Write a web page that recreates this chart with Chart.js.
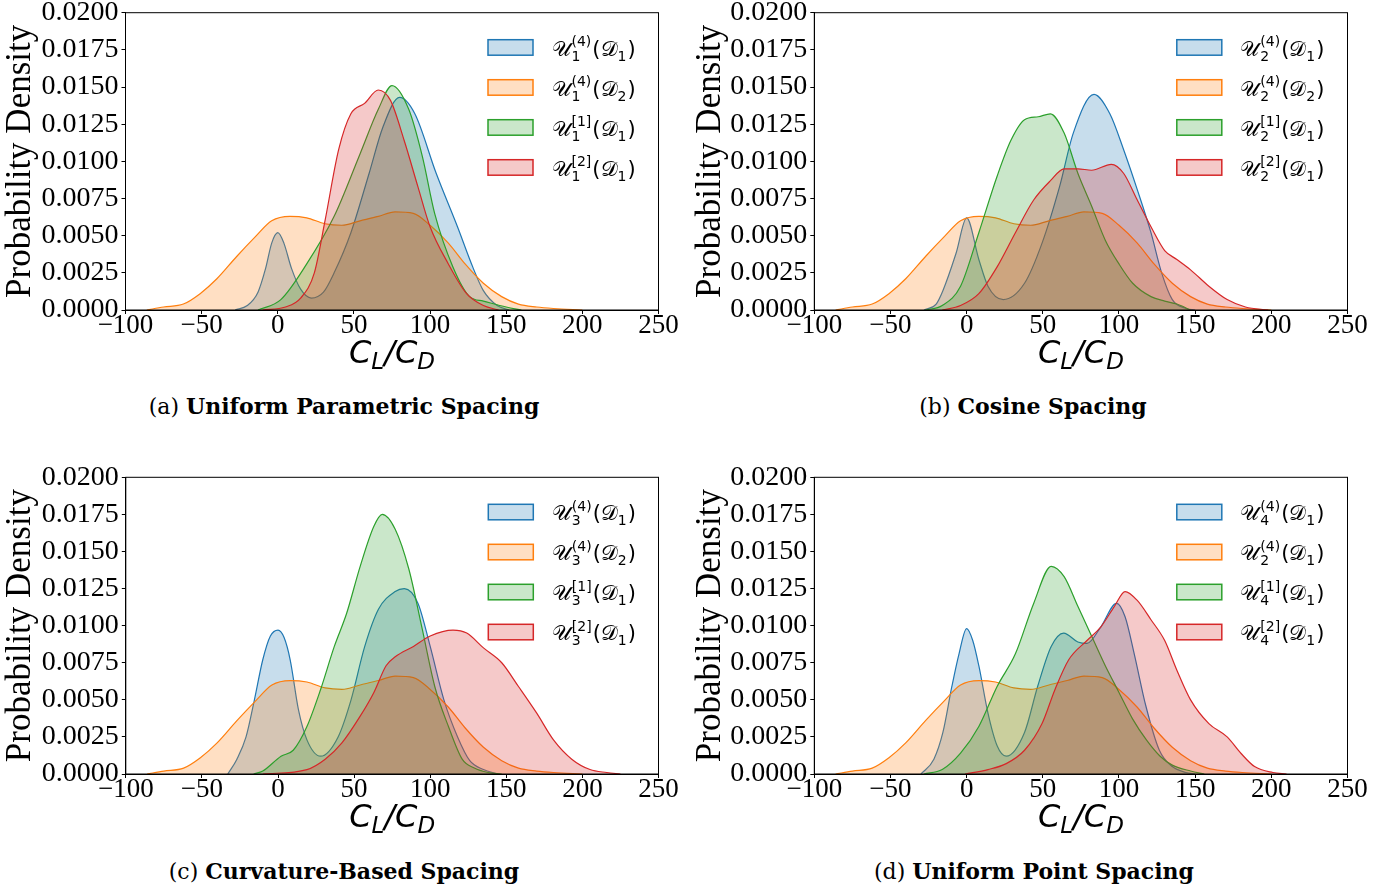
<!DOCTYPE html>
<html>
<head>
<meta charset="utf-8">
<script src="https://cdn.jsdelivr.net/npm/chart.js@4.4.1/dist/chart.umd.min.js"></script>
<style>
  html, body { margin: 0; padding: 0; background: #fff; }
  body { width: 1397px; height: 890px; position: relative; overflow: hidden; }
  canvas { position: absolute; }
  .cap { position: absolute; font-family: "DejaVu Serif", serif; font-size: 22px; color: #000;
         transform: translateX(-50%); white-space: nowrap; line-height: 26px; }
</style>
</head>
<body>
<canvas id="panelA" width="690" height="380" style="left:0;top:0"></canvas>
<canvas id="panelB" width="707" height="380" style="left:690px;top:0"></canvas>
<canvas id="panelC" width="690" height="380" style="left:0;top:460px"></canvas>
<canvas id="panelD" width="707" height="380" style="left:690px;top:460px"></canvas>
<div class="cap" style="left:344px;top:393px">(a) <b>Uniform Parametric Spacing</b></div>
<div class="cap" style="left:1033px;top:393px">(b) <b>Cosine Spacing</b></div>
<div class="cap" style="left:344px;top:858px">(c) <b>Curvature-Based Spacing</b></div>
<div class="cap" style="left:1034px;top:858px">(d) <b>Uniform Point Spacing</b></div>
<script>
// x = C_L/C_D, y = probability density (KDE curves)
const xTicks = [-100, -50, 0, 50, 100, 150, 200, 250];
const yTicks = [0, 0.0025, 0.005, 0.0075, 0.01, 0.0125, 0.015, 0.0175, 0.02];

// reference distribution (orange), identical in all four panels
const refX = [-86, -75, -62, -51, -40, -27, -15, -4, 8, 19, 31, 42, 54, 66, 77, 89, 100, 112, 123, 135, 147, 158, 170, 181, 200];
const refY = [0, .0002, .0004, .0011, .0021, .0036, .0049, .0060, .0063, .0062, .0058, .0057, .0060, .0063, .0066, .0065, .0057, .0045, .0031, .0018, .0009, .0004, .0002, .0001, 0];

// (a) uniform parametric spacing
const aBlueX = [-28, -20, -13, -8, -4, 0, 4, 9, 15, 22, 30, 37, 48, 60, 69, 80, 90, 104, 118, 128, 135, 144, 152];
const aBlueY = [0, .0003, .0012, .0028, .0045, .0052, .0045, .0028, .0014, .0008, .0012, .0025, .0052, .0092, .0123, .0143, .0132, .0092, .0056, .0029, .0013, .0003, 0];
const aGreenX = [-13, 2, 19, 37, 54, 66, 75, 86, 95, 103, 115, 126, 135, 150, 160];
const aGreenY = [0, .0007, .0031, .0063, .0105, .0135, .0151, .0135, .0103, .0065, .0029, .0009, .0006, .0002, 0];
const aRedX = [-10, 5, 15, 24, 31, 40, 48, 57, 66, 74, 83, 92, 100, 112, 124, 135, 145];
const aRedY = [0, .0002, .0008, .0025, .0060, .0108, .0132, .0139, .0148, .0141, .0114, .0083, .0056, .0031, .0011, .0003, 0];

// (b) cosine spacing
const bBlueX = [-28, -20, -15.6, -7, 0, 8, 14, 24, 38, 49.5, 61, 70, 83.6, 94, 103, 112, 121, 128, 135, 144, 150];
const bBlueY = [0, .0004, .0013, .0038, .0062, .0034, .0016, .0007, .0018, .0045, .0083, .0119, .0145, .0132, .0108, .0081, .0052, .0025, .0007, .0001, 0];
const bGreenX = [-27, -16, -4, 8, 20, 29, 38, 47, 55, 64, 73, 82, 91, 100, 109, 121, 130, 138, 147];
const bGreenY = [0, .0003, .0016, .0052, .0090, .0114, .0128, .0130, .0132, .0119, .0092, .0070, .0047, .0031, .0018, .0009, .0006, .0004, 0];
const bRedX = [-16, -4, 8, 20, 32, 44, 55, 64, 73, 82, 95, 103, 112, 121, 130, 138, 147, 159, 171, 183, 198];
const bRedY = [0, .0003, .0011, .0029, .0052, .0074, .0087, .0095, .0095, .0094, .0098, .0092, .0074, .0056, .0040, .0034, .0027, .0016, .0007, .0002, 0];

// (c) curvature-based spacing
const cBlueX = [-33, -27, -21, -15.5, -10, -5, 0, 4, 8, 13.5, 19, 28, 39.5, 48, 57, 66, 77, 83, 92, 100, 109, 118, 126, 135, 144];
const cBlueY = [0, .0010, .0025, .0050, .0077, .0093, .0097, .0092, .0077, .0043, .0023, .0012, .0025, .0050, .0086, .0111, .0123, .0125, .0115, .0086, .0050, .0025, .0009, .0003, 0];
const cGreenX = [-16, -10, 2, 10, 19, 28, 37, 45, 54, 63, 68.5, 77, 86, 94.5, 103, 112, 121, 129, 138, 147];
const cGreenY = [0, .0002, .0012, .0016, .0032, .0057, .0086, .0108, .0140, .0167, .0175, .0165, .0138, .0099, .0059, .0032, .0010, .0004, .0001, 0];
const cRedX = [-10, 19, 31, 42, 54, 63, 71, 77, 89, 100, 115, 124, 135, 147, 158, 170, 181, 193, 205, 216, 225];
const cRedY = [0, .0003, .0010, .0021, .0039, .0055, .0073, .0079, .0086, .0093, .0097, .0095, .0085, .0075, .0059, .0041, .0023, .0010, .0003, .0001, 0];

// (d) uniform point spacing
const dBlueX = [-30, -21.5, -15.6, -9.7, -5, 0, 4, 8, 14, 20, 26, 38, 46.6, 55.5, 63.7, 73, 79, 88, 98.4, 104, 110, 117.6, 126.5, 135, 144, 150];
const dBlueY = [0, .0010, .0028, .0059, .0081, .0098, .0090, .0073, .0041, .0019, .0012, .0028, .0059, .0086, .0095, .0089, .0088, .0099, .0115, .0106, .0081, .0046, .0016, .0005, .0001, 0];
const dGreenX = [-28, -16, -4, 8, 20, 32, 44, 55.5, 64, 73, 82, 91, 100, 109, 118, 127, 135, 147, 156];
const dGreenY = [0, .0003, .0014, .0032, .0059, .0081, .0115, .0140, .0133, .0113, .0093, .0073, .0055, .0037, .0023, .0012, .0006, .0002, 0];
const dRedX = [-1, 14, 26, 38, 49.5, 58, 67, 79, 88, 97, 104, 112, 121, 130, 138, 147, 159, 171, 180, 189, 201, 210];
const dRedY = [0, .0003, .0007, .0016, .0034, .0057, .0077, .0090, .0099, .0113, .0123, .0117, .0104, .0090, .0070, .0050, .0034, .0025, .0014, .0005, .0001, 0];

// legend labels: U_{sub}^{sup}(D_{dsub})
const supers = ['(4)', '(4)', '[1]', '[2]'];
const aLabels = [['1', '1'], ['1', '2'], ['1', '1'], ['1', '1']];
const bLabels = [['2', '1'], ['2', '2'], ['2', '1'], ['2', '1']];
const cLabels = [['3', '1'], ['3', '2'], ['3', '1'], ['3', '1']];
const dLabels = [['4', '1'], ['2', '1'], ['4', '1'], ['4', '1']];

const palette = ['#1f77b4', '#ff7f0e', '#2ca02c', '#d62728'];

Chart.defaults.font.family = '"Liberation Serif", "Times New Roman", serif';
Chart.defaults.color = '#000';

function fade(hex, a) {
    const r = parseInt(hex.slice(1, 3), 16);
    const g = parseInt(hex.slice(3, 5), 16);
    const b = parseInt(hex.slice(5, 7), 16);
    return `rgba(${r},${g},${b},${a})`;
}

const MATH = '"DejaVu Sans", "Noto Sans", sans-serif';

function drawXTitle(ctx, cx, base) {
    const big = `italic 32px ${MATH}`, small = `italic 23px ${MATH}`;
    const parts = [['C', big, 0], ['L', small, 6], ['/', big, 0], ['C', big, 0], ['D', small, 6]];
    let w = 0;
    parts.forEach(p => { ctx.font = p[1]; w += ctx.measureText(p[0]).width; });
    let x = cx - w / 2;
    parts.forEach(p => {
        ctx.font = p[1];
        ctx.fillText(p[0], x, base + p[2]);
        x += ctx.measureText(p[0]).width;
    });
}

function drawMathLabel(ctx, x, base, sub, sup, dsub) {
    const main = `21px ${MATH}`, small = `14px ${MATH}`;
    ctx.font = main;
    ctx.fillText('\u{1D4B0}', x, base);
    let cx = x + ctx.measureText('\u{1D4B0}').width + 1;
    ctx.font = small;
    ctx.fillText(sup, cx, base - 9.5);
    ctx.fillText(sub, cx, base + 5);
    cx += Math.max(ctx.measureText(sup).width, ctx.measureText(sub).width) + 1;
    ctx.font = main;
    ctx.fillText('(\u{1D49F}', cx, base);
    cx += ctx.measureText('(\u{1D49F}').width;
    ctx.font = small;
    ctx.fillText(dsub, cx, base + 5);
    cx += ctx.measureText(dsub).width + 1;
    ctx.font = main;
    ctx.fillText(')', cx, base);
}

const panelDecor = {
    id: 'panelDecor',
    afterDraw(chart, args, opts) {
        const { ctx, chartArea: ca } = chart;
        ctx.save();
        ctx.strokeStyle = '#000';
        ctx.lineWidth = 1;
        ctx.strokeRect(ca.left, ca.top, ca.right - ca.left, ca.bottom - ca.top);
        ctx.fillStyle = '#000';
        ctx.textAlign = 'left';
        ctx.textBaseline = 'alphabetic';
        drawXTitle(ctx, (ca.left + ca.right) / 2, ca.bottom + 53);
        chart.data.datasets.forEach((ds, i) => {
            const bx = ca.left + 362.5, by = ca.top + 27 + i * 40;
            ctx.fillStyle = ds.backgroundColor;
            ctx.fillRect(bx, by, 45, 15.5);
            ctx.strokeStyle = ds.borderColor;
            ctx.lineWidth = 1.5;
            ctx.strokeRect(bx, by, 45, 15.5);
            ctx.fillStyle = '#000';
            drawMathLabel(ctx, ca.left + 426, by + 16, opts.labels[i][0], supers[i], opts.labels[i][1]);
        });
        ctx.restore();
    }
};

function makePanel(id, series, labels, box) {
    const ctx = document.getElementById(id).getContext('2d');
    return new Chart(ctx, {
        type: 'line',
        data: {
            datasets: series.map((s, i) => ({
                label: 'U' + labels[i][0] + supers[i] + '(D' + labels[i][1] + ')',
                data: s[0].map((x, k) => ({ x: x, y: s[1][k] })),
                borderColor: palette[i],
                backgroundColor: fade(palette[i], 0.25),
                borderWidth: 1.2,
                fill: 'origin',
                pointRadius: 0,
                cubicInterpolationMode: 'monotone',
                order: 4 - i
            }))
        },
        options: {
            responsive: false,
            animation: false,
            events: [],
            layout: { padding: { left: 0, top: box.top, right: box.right, bottom: 0 } },
            plugins: {
                legend: { display: false },
                tooltip: { enabled: false },
                panelDecor: { labels: labels }
            },
            scales: {
                x: {
                    type: 'linear',
                    min: xTicks[0],
                    max: xTicks[xTicks.length - 1],
                    afterBuildTicks: s => { s.ticks = xTicks.map(v => ({ value: v })); },
                    ticks: {
                        autoSkip: false, maxRotation: 0, padding: -4,
                        font: { size: 27 },
                        callback: v => String(v).replace('-', '\u2212')
                    },
                    grid: { drawOnChartArea: false, drawTicks: true, tickLength: 4, color: '#000' },
                    border: { display: true, color: '#000', width: 1 },
                    afterFit: s => { s.height = box.xh; s.paddingLeft = 0; s.paddingRight = 0; }
                },
                y: {
                    min: yTicks[0],
                    max: yTicks[yTicks.length - 1],
                    afterBuildTicks: s => { s.ticks = yTicks.map(v => ({ value: v })); },
                    ticks: {
                        autoSkip: false, padding: 3,
                        font: { size: 28 },
                        callback: v => v.toFixed(4)
                    },
                    grid: { drawOnChartArea: false, drawTicks: true, tickLength: 4, color: '#000' },
                    border: { display: true, color: '#000', width: 1 },
                    title: {
                        display: true, text: 'Probability Density',
                        font: { size: 35 }, padding: { top: 0, bottom: 0 }
                    },
                    afterFit: s => { s.width = box.yw; s.paddingTop = 0; s.paddingBottom = 0; }
                }
            }
        },
        plugins: [panelDecor]
    });
}

makePanel('panelA', [[aBlueX, aBlueY], [refX, refY], [aGreenX, aGreenY], [aRedX, aRedY]], aLabels,
    { top: 12.7, right: 31.5, yw: 125.5, xh: 70 });
makePanel('panelB', [[bBlueX, bBlueY], [refX, refY], [bGreenX, bGreenY], [bRedX, bRedY]], bLabels,
    { top: 12.7, right: 49.5, yw: 124.3, xh: 70 });
makePanel('panelC', [[cBlueX, cBlueY], [refX, refY], [cGreenX, cGreenY], [cRedX, cRedY]], cLabels,
    { top: 17.3, right: 31.5, yw: 125.8, xh: 66 });
makePanel('panelD', [[dBlueX, dBlueY], [refX, refY], [dGreenX, dGreenY], [dRedX, dRedY]], dLabels,
    { top: 17.3, right: 49.5, yw: 124.3, xh: 66 });
</script>
</body>
</html>
